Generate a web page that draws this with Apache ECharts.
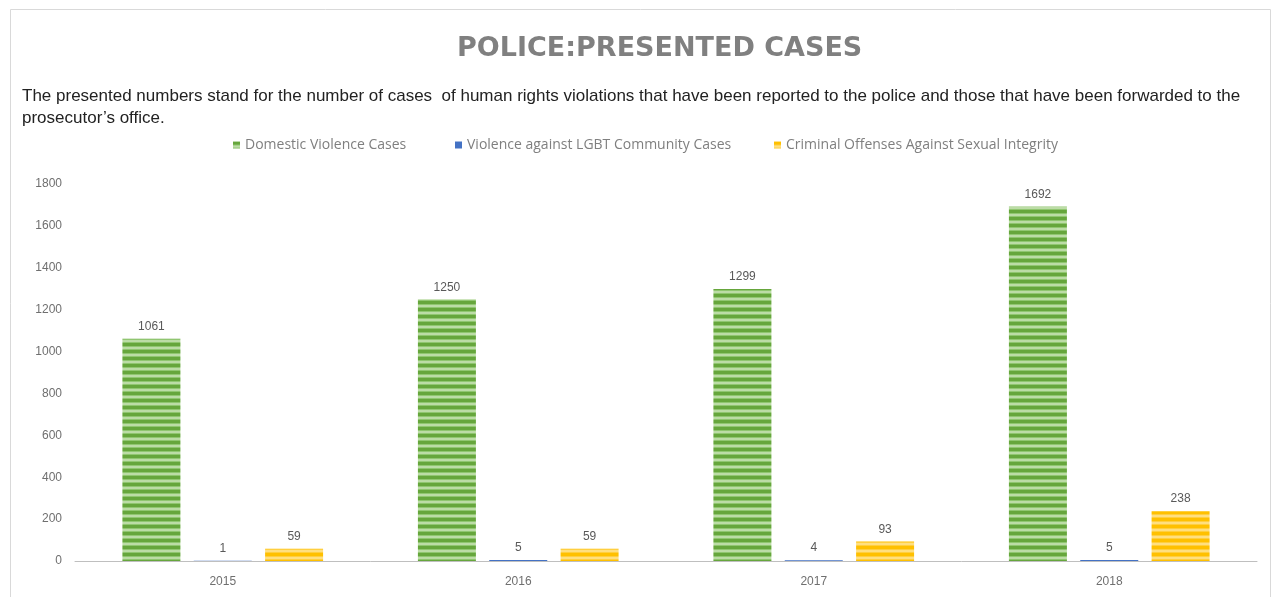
<!DOCTYPE html>
<html>
<head>
<meta charset="utf-8">
<script src="https://cdn.jsdelivr.net/npm/echarts@6/dist/echarts.min.js"></script>
<style>
  html, body { margin: 0; padding: 0; background: #fff; }
  #chart { width: 1280px; height: 597px; }
</style>
</head>
<body>
<div id="chart"></div>
<script>
// data
const years = ['2015', '2016', '2017', '2018'];
const domestic = [1061, 1250, 1299, 1692];
const lgbt = [1, 5, 4, 5];
const sexual = [59, 59, 93, 238];
const seriesNames = ['Domestic Violence Cases', 'Violence against LGBT Community Cases', 'Criminal Offenses Against Sexual Integrity'];

// striped fill like the excel picture
const stripes = (dark, mid, light) => {
    const c = document.createElement('canvas');
    c.width = 4; c.height = 7;
    const ctx = c.getContext('2d');
    ctx.fillStyle = dark; ctx.fillRect(0, 0, 4, 7);
    ctx.fillStyle = mid; ctx.fillRect(0, 3, 4, 1);
    ctx.fillStyle = light; ctx.fillRect(0, 4, 4, 2);
    ctx.fillStyle = mid; ctx.fillRect(0, 6, 4, 1);
    return { image: c, repeat: 'repeat' };
};

const chart = echarts.init(document.getElementById('chart'));
const font = "'Liberation Sans', sans-serif";

const labelStyle = {
    show: true,
    position: 'top',
    distance: 6,
    color: '#595959',
    fontSize: 12,
    fontFamily: font
};

// one legend per item so each sits where excel put it
const legendAt = (name, left) => ({
    top: 133,
    left: left,
    itemWidth: 7,
    itemHeight: 7,
    icon: 'rect',
    textStyle: { color: '#7f7f7f', fontSize: 14, fontFamily: "'Open Sans', sans-serif" },
    data: [name]
});

chart.setOption({
    animation: false,
    color: ['#70ad47', '#4472c4', '#ffc000'],
    title: {
        text: 'POLICE:PRESENTED CASES',
        left: 452,
        top: 30,
        textStyle: {
            fontFamily: "'DejaVu Sans', sans-serif",
            fontSize: 27,
            fontWeight: 'bold',
            color: '#808080'
        }
    },
    graphic: [
        {
            type: 'rect',
            shape: { x: 10.5, y: 9.5, width: 1260, height: 600 },
            style: { fill: 'none', stroke: '#d9d9d9', lineWidth: 1 },
            silent: true
        },
        {
            type: 'text',
            left: 22,
            top: 85,
            style: {
                text: 'The presented numbers stand for the number of cases  of human rights violations that have been reported to the police and those that have been forwarded to the\nprosecutor\u2019s office.',
                fontFamily: font,
                fontSize: 17,
                lineHeight: 22,
                fill: '#222'
            }
        }
    ],
    legend: [
        legendAt(seriesNames[0], 228),
        legendAt(seriesNames[1], 450),
        legendAt(seriesNames[2], 769)
    ],
    grid: { left: 75, right: 23, top: 184, bottom: 36 },
    xAxis: {
        type: 'category',
        data: years,
        axisLine: { lineStyle: { color: '#bfbfbf' } },
        axisTick: { show: false },
        axisLabel: { color: '#6f6f6f', fontSize: 12, fontFamily: font, margin: 15 }
    },
    yAxis: {
        type: 'value',
        min: 0,
        max: 1800,
        interval: 200,
        splitLine: { show: false },
        axisLine: { show: false },
        axisTick: { show: false },
        axisLabel: {
            color: '#6f6f6f',
            fontSize: 12,
            fontFamily: font,
            margin: 13,
            formatter: v => String(v)
        }
    },
    series: [
        {
            name: seriesNames[0],
            type: 'bar',
            data: domestic,
            barWidth: 58,
            barGap: '23%',
            itemStyle: { color: stripes('#66a63c', '#90c670', '#bcdca6') },
            label: labelStyle
        },
        {
            name: seriesNames[1],
            type: 'bar',
            data: lgbt,
            barWidth: 58,
            itemStyle: { color: '#4472c4' },
            label: labelStyle
        },
        {
            name: seriesNames[2],
            type: 'bar',
            data: sexual,
            barWidth: 58,
            itemStyle: { color: stripes('#ffc000', '#ffcf40', '#ffdf80') },
            label: labelStyle
        }
    ]
});
</script>
</body>
</html>
